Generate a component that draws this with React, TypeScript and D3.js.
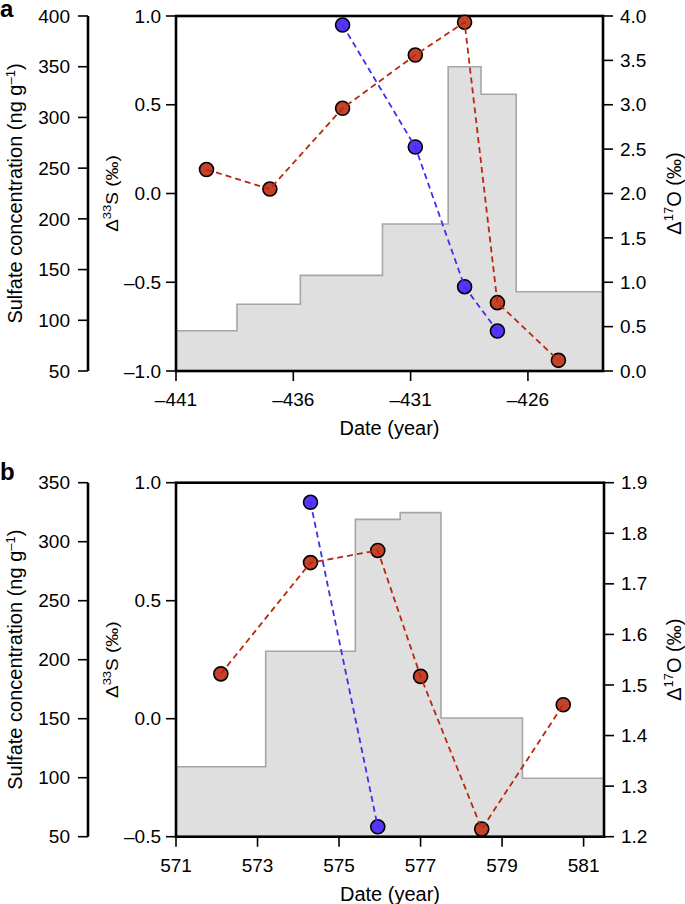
import React from 'react';
import * as d3 from 'd3';

// ---------- Panel a data ----------
const aYearTicks = [-441, -436, -431, -426];
const aSulfateTicks = [50, 100, 150, 200, 250, 300, 350, 400];
const aD33Ticks = [-1.0, -0.5, 0.0, 0.5, 1.0];
const aD17Ticks = [0.0, 0.5, 1.0, 1.5, 2.0, 2.5, 3.0, 3.5, 4.0];
const aStepEdges = [-441, -438.4, -435.7, -432.2, -429.4, -428.0, -426.5, -422.8];
const aStepValues = [89.7, 115.8, 144.3, 194.9, 350, 322.8, 128.2];
const aD17Years = [-439.7, -437.0, -433.9, -430.8, -428.7, -427.3, -424.7];
const aD17Values = [2.27, 2.05, 2.96, 3.56, 3.93, 0.77, 0.12];
const aD33Years = [-433.9, -430.8, -428.7, -427.3];
const aD33Values = [0.949, 0.262, -0.525, -0.775];

// ---------- Panel b data ----------
const bYearTicks = [571, 573, 575, 577, 579, 581];
const bSulfateTicks = [50, 100, 150, 200, 250, 300, 350];
const bD33Ticks = [-0.5, 0.0, 0.5, 1.0];
const bD17Ticks = [1.2, 1.3, 1.4, 1.5, 1.6, 1.7, 1.8, 1.9];
const bStepEdges = [571, 573.2, 575.4, 576.5, 577.5, 579.5, 581.5];
const bStepValues = [109.3, 207.1, 318.9, 324.6, 150.6, 99.5];
const bD17Years = [572.1, 574.3, 575.95, 577.0, 578.5, 580.5];
const bD17Values = [1.522, 1.742, 1.766, 1.517, 1.215, 1.461];
const bD33Years = [574.3, 575.95];
const bD33Values = [0.917, -0.458];

const FONT = '"Liberation Sans", Arial, Helvetica, sans-serif';
const TICK_FS = 19;
const TITLE_FS = 20;
const RED_FILL = '#c4412a';
const RED_LINE = '#b8280f';
const BLUE_FILL = '#5535fa';
const BLUE_LINE = '#3d30f0';

const dash = (s: string) => s.replace('-', '\u2013').replace('\u2212', '\u2013');

type PanelProps = {
  label: string;
  top: number; bottom: number; left: number; right: number; sulfX: number;
  xDomain: [number, number];
  sulfDomain: [number, number];
  d33Domain: [number, number];
  d17Domain: [number, number];
  yearTicks: number[]; sulfTicks: number[]; d33Ticks: number[]; d17Ticks: number[];
  stepEdges: number[]; stepValues: number[];
  d17Years: number[]; d17Values: number[];
  d33Years: number[]; d33Values: number[];
  labelY: number;
};

function Panel(p: PanelProps) {
  const x = d3.scaleLinear().domain(p.xDomain).range([p.left, p.right]);
  const ySul = d3.scaleLinear().domain(p.sulfDomain).range([p.bottom, p.top]);
  const y33 = d3.scaleLinear().domain(p.d33Domain).range([p.bottom, p.top]);
  const y17 = d3.scaleLinear().domain(p.d17Domain).range([p.bottom, p.top]);
  const f1 = d3.format('.1f');
  const clipId = 'clip-' + p.label;

  const stepPts: [number, number][] = [];
  p.stepValues.forEach((v, i) => {
    stepPts.push([p.stepEdges[i], v]);
    stepPts.push([p.stepEdges[i + 1], v]);
  });
  const stepLine = d3.line<[number, number]>().x(d => x(d[0])).y(d => ySul(d[1]));
  const stepArea = d3.area<[number, number]>().x(d => x(d[0])).y0(p.bottom).y1(d => ySul(d[1]));

  const d17 = p.d17Years.map((yr, i) => [yr, p.d17Values[i]] as [number, number]);
  const d33 = p.d33Years.map((yr, i) => [yr, p.d33Values[i]] as [number, number]);
  const line17 = d3.line<[number, number]>().x(d => x(d[0])).y(d => y17(d[1]));
  const line33 = d3.line<[number, number]>().x(d => x(d[0])).y(d => y33(d[1]));
  const yc = (p.top + p.bottom) / 2;
  const xc = (p.left + p.right) / 2;

  return (
    <g fontFamily={FONT}>
      <defs>
        <clipPath id={clipId}>
          <rect x={p.left} y={p.top} width={p.right - p.left} height={p.bottom - p.top} />
        </clipPath>
      </defs>
      <text x={0} y={p.labelY} fontSize={24} fontWeight="bold">{p.label}</text>

      {/* histogram */}
      <g clipPath={`url(#${clipId})`}>
        <path d={stepArea(stepPts) || ''} fill="#dfdfdf" stroke="none" />
        <path d={stepLine(stepPts) || ''} fill="none" stroke="#a6a6a6" strokeWidth={1.6} />
      </g>

      {/* sulfate axis */}
      <line x1={p.sulfX} x2={p.sulfX} y1={p.top} y2={p.bottom} stroke="#000" strokeWidth={2.6} />
      {p.sulfTicks.map(t => (
        <g key={'s' + t}>
          <line x1={p.sulfX - 10} x2={p.sulfX} y1={ySul(t)} y2={ySul(t)} stroke="#000" strokeWidth={1.6} />
          <text x={p.sulfX - 18} y={ySul(t)} dy="0.35em" textAnchor="end" fontSize={TICK_FS}>{t}</text>
        </g>
      ))}
      <text transform={`translate(22,${yc}) rotate(-90)`} textAnchor="middle" fontSize={TITLE_FS}>
        Sulfate concentration (ng g<tspan dy={-7} fontSize={13}>{'\u20131'}</tspan><tspan dy={7}>)</tspan>
      </text>

      {/* left D33 axis */}
      {p.d33Ticks.map(t => (
        <g key={'l' + t}>
          <line x1={p.left - 10} x2={p.left} y1={y33(t)} y2={y33(t)} stroke="#000" strokeWidth={1.6} />
          <text x={p.left - 15} y={y33(t)} dy="0.35em" textAnchor="end" fontSize={TICK_FS}>{dash(f1(t))}</text>
        </g>
      ))}
      <text transform={`translate(118,${yc}) rotate(-90) scale(1,0.82)`} textAnchor="middle" fontSize={19}>
        {'\u0394'}<tspan dy={-8} fontSize={13}>33</tspan><tspan dy={8}>S (‰)</tspan>
      </text>

      {/* right D17 axis */}
      {p.d17Ticks.map(t => (
        <g key={'r' + t}>
          <line x1={p.right} x2={p.right + 10} y1={y17(t)} y2={y17(t)} stroke="#000" strokeWidth={1.6} />
          <text x={p.right + 17} y={y17(t)} dy="0.35em" textAnchor="start" fontSize={TICK_FS}>{f1(t)}</text>
        </g>
      ))}
      <text transform={`translate(681,${yc}) rotate(-90)`} textAnchor="middle" fontSize={TITLE_FS}>
        {'\u0394'}<tspan dy={-8} fontSize={13}>17</tspan><tspan dy={8}>O (‰)</tspan>
      </text>

      {/* x axis */}
      {p.yearTicks.map(t => (
        <g key={'x' + t}>
          <line x1={x(t)} x2={x(t)} y1={p.bottom} y2={p.bottom + 10} stroke="#000" strokeWidth={1.6} />
          <text x={x(t)} y={p.bottom + 35} textAnchor="middle" fontSize={TICK_FS}>{dash(String(t))}</text>
        </g>
      ))}
      <text x={xc} y={p.bottom + 64} textAnchor="middle" fontSize={TITLE_FS}>Date (year)</text>

      {/* frame */}
      <rect x={p.left} y={p.top} width={p.right - p.left} height={p.bottom - p.top} fill="none" stroke="#000" strokeWidth={2.6} />

      {/* points */}
      {d33.map((d, i) => (
        <circle key={'b' + i} cx={x(d[0])} cy={y33(d[1])} r={7} fill={BLUE_FILL} stroke="#000" strokeWidth={1.6} />
      ))}
      {d17.map((d, i) => (
        <circle key={'r' + i} cx={x(d[0])} cy={y17(d[1])} r={7} fill={RED_FILL} stroke="#000" strokeWidth={1.6} />
      ))}
      <path d={line33(d33) || ''} fill="none" stroke={BLUE_LINE} strokeWidth={1.8} strokeDasharray="6,4" />
      <path d={line17(d17) || ''} fill="none" stroke={RED_LINE} strokeWidth={1.8} strokeDasharray="6,4" />
    </g>
  );
}

export default function App() {
  return (
    <svg width={685} height={904} style={{ position: 'absolute', left: 0, top: 0, background: '#fff' }}>
      <rect x={0} y={0} width={685} height={904} fill="#fff" />
      <Panel
        label="a" labelY={17}
        top={16} bottom={371} left={176} right={603} sulfX={88}
        xDomain={[-441, -422.8]} sulfDomain={[50, 400]} d33Domain={[-1, 1]} d17Domain={[0, 4]}
        yearTicks={aYearTicks} sulfTicks={aSulfateTicks} d33Ticks={aD33Ticks} d17Ticks={aD17Ticks}
        stepEdges={aStepEdges} stepValues={aStepValues}
        d17Years={aD17Years} d17Values={aD17Values} d33Years={aD33Years} d33Values={aD33Values}
      />
      <Panel
        label="b" labelY={480}
        top={482.7} bottom={836.7} left={176} right={604} sulfX={88}
        xDomain={[571, 581.5]} sulfDomain={[50, 350]} d33Domain={[-0.5, 1]} d17Domain={[1.2, 1.9]}
        yearTicks={bYearTicks} sulfTicks={bSulfateTicks} d33Ticks={bD33Ticks} d17Ticks={bD17Ticks}
        stepEdges={bStepEdges} stepValues={bStepValues}
        d17Years={bD17Years} d17Values={bD17Values} d33Years={bD33Years} d33Values={bD33Values}
      />
    </svg>
  );
}
